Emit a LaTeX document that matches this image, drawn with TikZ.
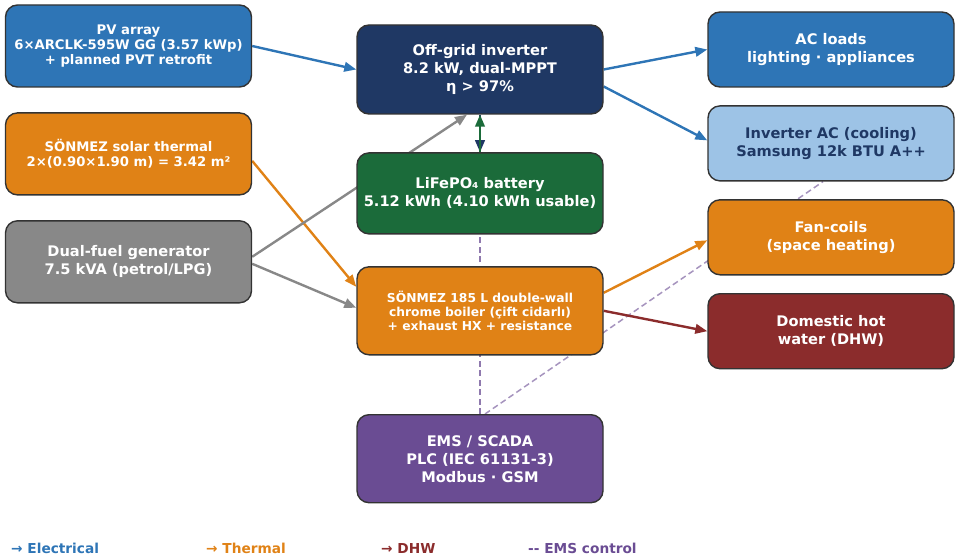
\documentclass[tikz,border=0pt]{standalone}
\usepackage{fontspec}
\setmainfont{DejaVu Sans}
\usetikzlibrary{positioning,arrows.meta,backgrounds}
\definecolor{elecblue}{RGB}{46,117,182}
\definecolor{thermorange}{RGB}{224,130,22}
\definecolor{gengray}{RGB}{136,136,136}
\definecolor{invnavy}{RGB}{31,56,100}
\definecolor{batgreen}{RGB}{27,107,58}
\definecolor{coolblue}{RGB}{157,195,230}
\definecolor{dhwred}{RGB}{139,44,44}
\definecolor{emspurple}{RGB}{106,76,147}
\definecolor{boxedge}{RGB}{51,51,51}

\begin{document}
\begin{tikzpicture}[x=1pt, y=1pt, node distance=24.5pt, >={Triangle[length=12pt,width=9.5pt]},
    unit/.style={rectangle, draw=boxedge, line width=1.4pt, rounded corners=12pt, minimum width=246pt, align=center, text=white, inner sep=2pt},
    big/.style={font=\fontsize{14.6}{18}\selectfont\bfseries},
    small/.style={font=\fontsize{13.2}{15}\selectfont\bfseries},
    tiny/.style={font=\fontsize{12.3}{14}\selectfont\bfseries},
    flow/.style={->, line width=2.4pt},
    ctrl/.style={dashed, dash pattern=on 6pt off 3.5pt, line width=1.5pt, draw=emspurple!75},
    key/.style={anchor=base west, inner sep=0pt, font=\fontsize{13.7}{15}\selectfont\bfseries}]

\useasboundingbox (0,0) rectangle (960,-559);

% sources
\node [unit, small, fill=elecblue, minimum height=82pt] (pv) at (128.5,-46) {PV array\\6×ARCLK-595W GG (3.57 kWp)\\+ planned PVT retrofit};
\node [unit, small, fill=thermorange, minimum height=82pt, below=of pv] (solar) {SÖNMEZ solar thermal\\2×(0.90×1.90 m) = 3.42 m²};
\node [unit, big, fill=gengray, minimum height=82pt, below=of solar] (gen) {Dual-fuel generator\\7.5 kVA (petrol/LPG)};

% conversion and storage
\node [unit, big, fill=invnavy, minimum height=89pt] (inv) at (480,-69.5) {Off-grid inverter\\8.2 kW, dual-MPPT\\η > 97\%};
\node [unit, big, fill=batgreen, minimum height=81pt, below=37.5pt of inv] (bat) {LiFePO₄ battery\\5.12 kWh (4.10 kWh usable)};
\node [unit, tiny, fill=thermorange, minimum height=88pt, below=31.5pt of bat] (boiler) {SÖNMEZ 185 L double-wall\\chrome boiler (çift cidarlı)\\+ exhaust HX + resistance};
\node [unit, big, fill=emspurple, minimum height=88pt, below=58.5pt of boiler] (ems) {EMS / SCADA\\PLC (IEC 61131-3)\\Modbus · GSM};

% loads
\node [unit, big, fill=elecblue, minimum height=75pt] (acload) at (831,-49.5) {AC loads\\lighting · appliances};
\node [unit, big, fill=coolblue, text=invnavy, minimum height=75pt, below=17.5pt of acload] (cool) {Inverter AC (cooling)\\Samsung 12k BTU A++};
\node [unit, big, fill=thermorange, minimum height=75pt, below=17.5pt of cool] (fancoil) {Fan-coils\\(space heating)};
\node [unit, big, fill=dhwred, minimum height=75pt, below=17.5pt of fancoil] (dhw) {Domestic hot\\water (DHW)};

% legend
\node [key, text=elecblue] (kelec) at (11,-553) {→ Electrical};
\node [key, text=thermorange] (ktherm) at (206,-553) {→ Thermal};
\node [key, text=dhwred] (kdhw) at (381,-553) {→ DHW};
\node [key, text=emspurple] (kems) at (528,-553) {-{}- EMS control};

\begin{scope}[on background layer]
\draw [ctrl] (ems.north) -- (bat.south);
\draw [ctrl, draw=emspurple!60] ([xshift=5pt]ems.north) -- ([xshift=-8pt]cool.south);

\draw [flow, draw=elecblue] (pv.east) -- (inv.west);
\draw [flow, draw=thermorange] ([yshift=-7pt]solar.east) -- ([yshift=24pt]boiler.west);
\draw [flow, draw=gengray] ([yshift=5pt]gen.east) -- ([xshift=-13pt]inv.south);
\draw [flow, draw=gengray] ([yshift=-2pt]gen.east) -- ([yshift=3pt]boiler.west);
\draw [flow, draw=invnavy] (inv.south) -- (bat.north);
\draw [flow, draw=batgreen] (bat.north) -- (inv.south);

\draw [flow, draw=elecblue] (inv.east) -- (acload.west);
\draw [flow, draw=elecblue] ([yshift=-17pt]inv.east) -- ([yshift=3pt]cool.west);
\draw [flow, draw=thermorange] ([yshift=18pt]boiler.east) -- ([yshift=-3pt]fancoil.west);
\draw [flow, draw=dhwred] (boiler.east) -- (dhw.west);
\end{scope}

\end{tikzpicture}
\end{document}
